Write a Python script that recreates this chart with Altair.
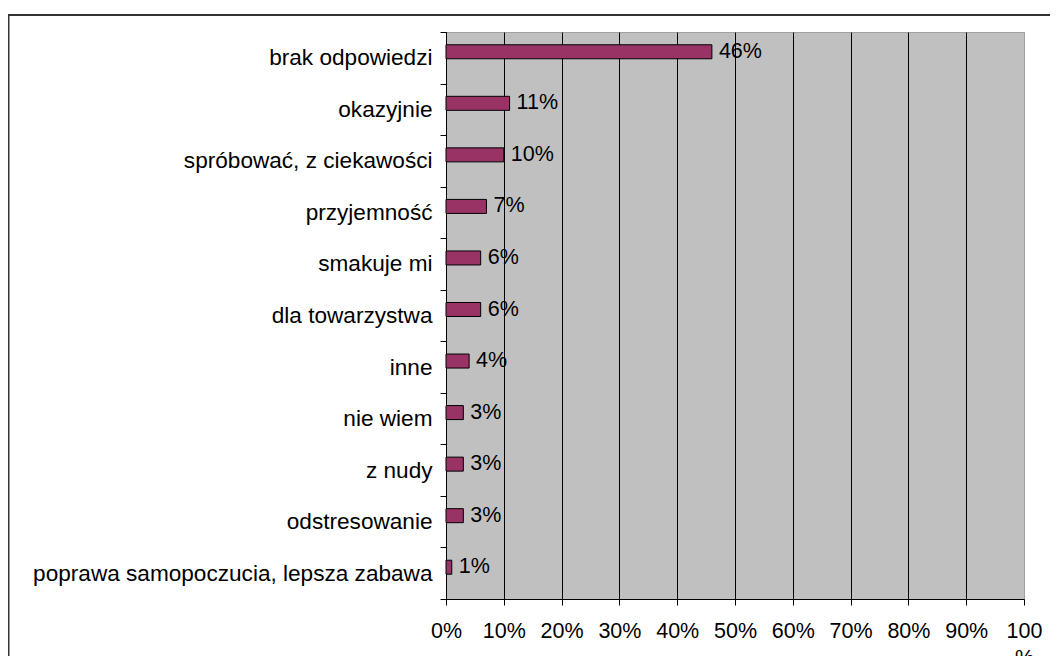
import altair as alt
import pandas as pd

categories = [
    "brak odpowiedzi",
    "okazyjnie",
    "spróbować, z ciekawości",
    "przyjemność",
    "smakuje mi",
    "dla towarzystwa",
    "inne",
    "nie wiem",
    "z nudy",
    "odstresowanie",
    "poprawa samopoczucia, lepsza zabawa",
]
values = [46, 11, 10, 7, 6, 6, 4, 3, 3, 3, 1]
x_ticks = [0, 10, 20, 30, 40, 50, 60, 70, 80, 90, 100]

df = pd.DataFrame({"cat": categories, "val": values})
df["label"] = [f"{v}%" for v in values]

FONT = "Liberation Sans"

y_enc = alt.Y(
    "cat:N",
    sort=categories,
    title=None,
    scale=alt.Scale(paddingInner=0, paddingOuter=0),
    axis=alt.Axis(
        tickBand="extent",
        domainColor="black",
        tickColor="black",
        tickSize=6,
        labelFontSize=22.6,
        labelFont=FONT,
        labelColor="black",
        labelPadding=8,
        labelLimit=600,
        grid=False,
    ),
)

x_enc = alt.X(
    "val:Q",
    title=None,
    scale=alt.Scale(domain=[0, 100], nice=False),
    axis=alt.Axis(
        values=x_ticks,
        labelExpr="datum.value == 100 ? ['100', '%'] : datum.value + '%'",
        domainColor="black",
        tickColor="black",
        tickSize=6,
        labelFontSize=21.5,
        labelFont=FONT,
        labelColor="black",
        labelPadding=15,
        labelBaseline="top",
        labelLineHeight=27,
        labelFlush=False,
        labelOverlap=False,
        grid=True,
        gridColor={"condition": {"test": "datum.value >= 100", "value": "#a0a0a0"}, "value": "black"},
        gridWidth=1,
    ),
)

bars = alt.Chart(df).mark_bar(
    size=14, color="#993366", stroke="black", strokeWidth=1, yOffset=-6
).encode(x=x_enc, y=y_enc)

labels = alt.Chart(df).mark_text(
    align="left", baseline="middle", dx=7, yOffset=-6, fontSize=21.5, font=FONT, color="black"
).encode(x="val:Q", y=alt.Y("cat:N", sort=categories), text="label:N")

frame = alt.Chart(alt.Data(values=[{}])).mark_rect(
    filled=False, stroke="#333333", strokeWidth=2, clip=False
).encode(
    x=alt.value(-437.5), x2=alt.value(800), y=alt.value(-17), y2=alt.value(800)
)

chart = alt.layer(frame, bars, labels).properties(
    width=578,
    height=567,
    autosize=alt.AutoSizeParams(type="none"),
    padding={"left": 438, "top": 24, "right": 26, "bottom": 57},
    background="white",
).configure_view(
    fill="#C0C0C0", stroke="#a0a0a0", strokeWidth=1
)

chart.save("out.html", embed_options={"renderer": "svg", "actions": False})
